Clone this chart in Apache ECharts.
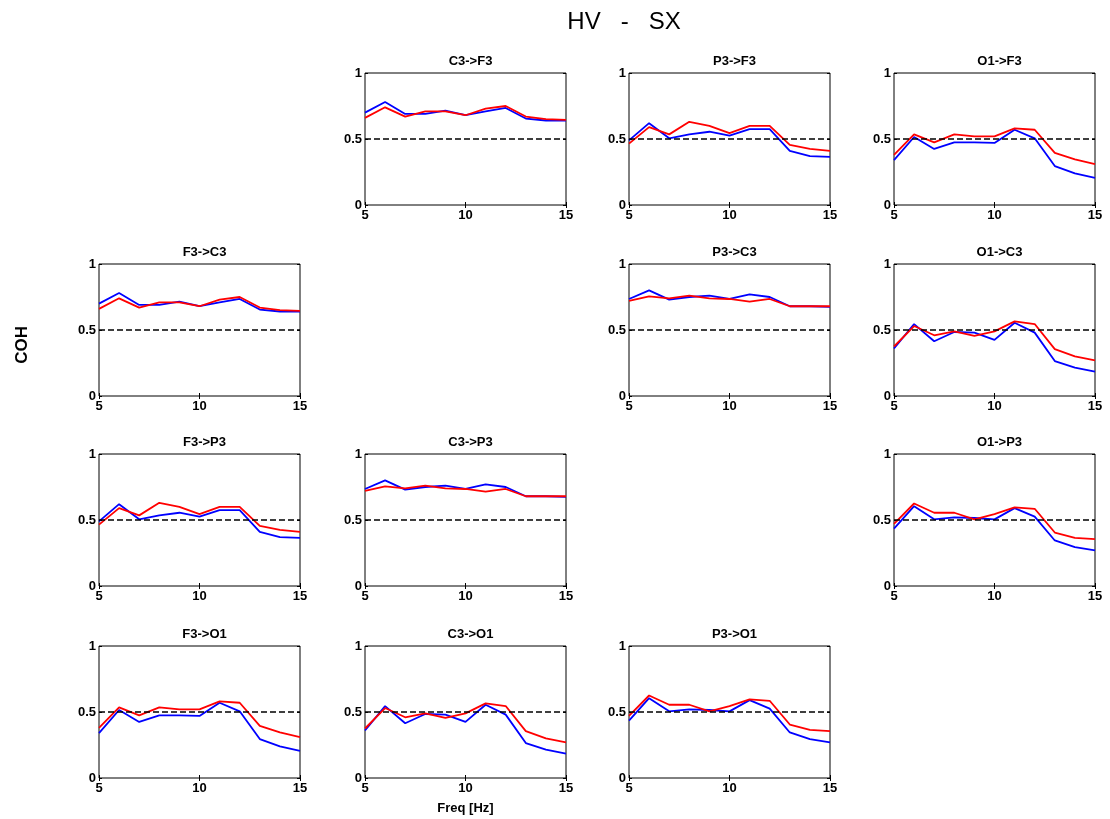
<!DOCTYPE html>
<html>
<head>
<meta charset="utf-8">
<script src="https://cdn.jsdelivr.net/npm/echarts@6/dist/echarts.min.js"></script>
<style>
  html, body { margin: 0; padding: 0; background: #fff; }
  #main { width: 1110px; height: 819px; }
</style>
</head>
<body>
<div id="main"></div>
<script>
// frequency axis (Hz)
const freqs = [5, 6, 7, 8, 9, 10, 11, 12, 13, 14, 15];
const channels = ['F3', 'C3', 'P3', 'O1'];

// coherence per channel pair (the picture shows the same curve for a->b and b->a)
const hv_F3_C3 = [0.70, 0.78, 0.69, 0.69, 0.715, 0.68, 0.71, 0.735, 0.655, 0.64, 0.64];
const sx_F3_C3 = [0.66, 0.74, 0.67, 0.71, 0.71, 0.68, 0.73, 0.75, 0.67, 0.65, 0.645];
const hv_F3_P3 = [0.49, 0.62, 0.505, 0.535, 0.555, 0.525, 0.575, 0.575, 0.41, 0.37, 0.365];
const sx_F3_P3 = [0.465, 0.59, 0.535, 0.63, 0.60, 0.545, 0.60, 0.60, 0.455, 0.425, 0.41];
const hv_F3_O1 = [0.34, 0.515, 0.425, 0.475, 0.475, 0.47, 0.57, 0.505, 0.295, 0.24, 0.205];
const sx_F3_O1 = [0.38, 0.535, 0.475, 0.535, 0.52, 0.52, 0.58, 0.57, 0.395, 0.345, 0.31];
const hv_C3_P3 = [0.735, 0.80, 0.73, 0.75, 0.76, 0.735, 0.77, 0.75, 0.68, 0.68, 0.675];
const sx_C3_P3 = [0.72, 0.755, 0.74, 0.76, 0.74, 0.735, 0.715, 0.735, 0.68, 0.68, 0.68];
const hv_C3_O1 = [0.36, 0.545, 0.415, 0.485, 0.48, 0.425, 0.555, 0.48, 0.265, 0.215, 0.185];
const sx_C3_O1 = [0.375, 0.53, 0.46, 0.49, 0.455, 0.49, 0.565, 0.545, 0.355, 0.30, 0.27];
const hv_P3_O1 = [0.435, 0.605, 0.505, 0.52, 0.515, 0.505, 0.59, 0.525, 0.345, 0.295, 0.27];
const sx_P3_O1 = [0.47, 0.625, 0.555, 0.555, 0.505, 0.545, 0.595, 0.585, 0.405, 0.365, 0.355];

const pairData = {
  'F3-C3': [hv_F3_C3, sx_F3_C3],
  'F3-P3': [hv_F3_P3, sx_F3_P3],
  'F3-O1': [hv_F3_O1, sx_F3_O1],
  'C3-P3': [hv_C3_P3, sx_C3_P3],
  'C3-O1': [hv_C3_O1, sx_C3_O1],
  'P3-O1': [hv_P3_O1, sx_P3_O1]
};
const threshold = 0.5;

const colLeft = [99, 365, 629, 894];
const rowTop = [73, 264, 454, 646];
const plotW = 201, plotH = 132;
const font = 'Liberation Sans, Arial, sans-serif';

const chart = echarts.init(document.getElementById('main'));

function pairKey(a, b) {
  const ia = channels.indexOf(a), ib = channels.indexOf(b);
  return ia < ib ? a + '-' + b : b + '-' + a;
}

const tick = { show: true, inside: true, length: 3, lineStyle: { color: '#000' } };
const grids = [], xAxes = [], yAxes = [], series = [], titles = [];
titles.push({
  text: 'HV   -   SX', left: 619, top: 5, textAlign: 'center',
  textStyle: { fontFamily: font, fontSize: 24, fontWeight: 'normal', color: '#000' }
});

let idx = 0;
for (let r = 0; r < 4; r++) {
  for (let c = 0; c < 4; c++) {
    if (r === c) continue;
    const src = channels[c], dst = channels[r];
    const d = pairData[pairKey(src, dst)];
    grids.push({
      left: colLeft[c], top: rowTop[r], width: plotW, height: plotH,
      show: true, borderColor: '#000', borderWidth: 1, backgroundColor: '#fff'
    });
    xAxes.push({
      gridIndex: idx, type: 'value', min: 5, max: 15, interval: 5, position: 'bottom',
      axisLine: { show: false }, axisTick: tick, splitLine: { show: false },
      axisLabel: { color: '#000', fontFamily: font, fontWeight: 'bold', fontSize: 13, margin: 4 },
      name: (r === 3 && c === 1) ? 'Freq [Hz]' : '',
      nameLocation: 'middle', nameGap: 24,
      nameTextStyle: { color: '#000', fontFamily: font, fontWeight: 'bold', fontSize: 13 }
    });
    xAxes.push({
      gridIndex: idx, type: 'value', min: 5, max: 15, interval: 5, position: 'top',
      axisLine: { show: false }, axisTick: tick, splitLine: { show: false },
      axisLabel: { show: false }
    });
    yAxes.push({
      gridIndex: idx, type: 'value', min: 0, max: 1, interval: 0.5, position: 'left',
      axisLine: { show: false }, axisTick: tick, splitLine: { show: false },
      axisLabel: { color: '#000', fontFamily: font, fontWeight: 'bold', fontSize: 13, margin: 3 }
    });
    yAxes.push({
      gridIndex: idx, type: 'value', min: 0, max: 1, interval: 0.5, position: 'right',
      axisLine: { show: false }, axisTick: tick, splitLine: { show: false },
      axisLabel: { show: false }
    });
    titles.push({
      text: src + '->' + dst, left: colLeft[c] + plotW / 2, top: rowTop[r] - 23, textAlign: 'center',
      textStyle: { fontFamily: font, fontSize: 13, fontWeight: 'bold', color: '#000' }
    });
    series.push({
      type: 'line', xAxisIndex: 2 * idx, yAxisIndex: 2 * idx,
      data: freqs.map((f, i) => [f, d[0][i]]),
      showSymbol: false, symbol: 'none', silent: true,
      lineStyle: { color: '#0000ff', width: 1.8 },
      markLine: {
        silent: true, symbol: 'none', label: { show: false },
        lineStyle: { color: '#000', type: [6, 3], width: 1.6 },
        data: [{ yAxis: threshold }]
      },
      z: 3
    });
    series.push({
      type: 'line', xAxisIndex: 2 * idx, yAxisIndex: 2 * idx,
      data: freqs.map((f, i) => [f, d[1][i]]),
      showSymbol: false, symbol: 'none', silent: true,
      lineStyle: { color: '#ff0000', width: 1.8 },
      z: 4
    });
    idx++;
  }
}

chart.setOption({
  animation: false,
  title: titles,
  grid: grids,
  xAxis: xAxes,
  yAxis: yAxes,
  series: series,
  graphic: [{
    type: 'text', left: 14, top: 326, rotation: Math.PI / 2,
    style: { text: 'COH', fontFamily: font, fontSize: 17, fontWeight: 'bold', fill: '#000' }
  }]
});
</script>
</body>
</html>
